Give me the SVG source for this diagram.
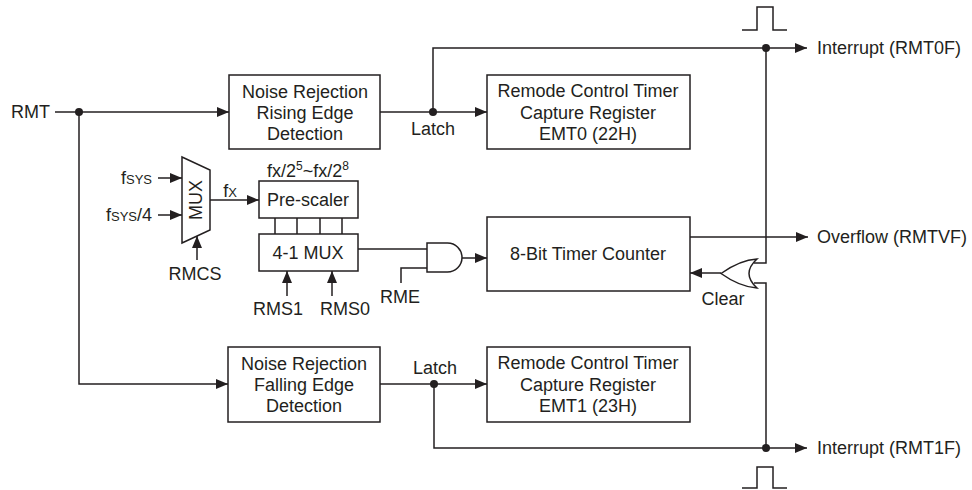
<svg xmlns="http://www.w3.org/2000/svg" width="972" height="490" viewBox="0 0 972 490">
<style>
text{font-family:"Liberation Sans",Arial,sans-serif;font-size:18px;fill:#231f20}
.m{text-anchor:middle}
.e{text-anchor:end}
.box{fill:#fff;stroke:#231f20;stroke-width:1.5}
.w{fill:none;stroke:#231f20;stroke-width:1.5}
.sc{font-size:13px}
.dot{fill:#231f20}
</style>
<defs>
<marker id="a" markerUnits="userSpaceOnUse" markerWidth="12" markerHeight="10" viewBox="0 0 12 10" refX="12" refY="5" orient="auto">
<path d="M0,0 L12,5 L0,10 Z" fill="#231f20"/>
</marker>
</defs>
<rect width="972" height="490" fill="#fff"/>

<g id="connectors">
<path class="w" d="M55,112 H229" marker-end="url(#a)"/>
<path class="w" d="M79,112 V384 H228" marker-end="url(#a)"/>
<path class="w" d="M380,112 H487" marker-end="url(#a)"/>
<path class="w" d="M433,112 V48 H807" marker-end="url(#a)"/>
<path class="w" d="M766,48 V263 H754"/>
<path class="w" d="M380,384 H487" marker-end="url(#a)"/>
<path class="w" d="M434,384 V448 H807" marker-end="url(#a)"/>
<path class="w" d="M766,448 V283 H754"/>
<path class="w" d="M158,178 H182" marker-end="url(#a)"/>
<path class="w" d="M158,215 H182" marker-end="url(#a)"/>
<path class="w" d="M197,260 V236" marker-end="url(#a)"/>
<path class="w" d="M210,200 H259" marker-end="url(#a)"/>
<path class="w" d="M275,218 V234 M297,218 V234 M320,218 V234 M342,218 V234"/>
<path class="w" d="M287,296 V271" marker-end="url(#a)"/>
<path class="w" d="M332,296 V271" marker-end="url(#a)"/>
<path class="w" d="M358,249 H427"/>
<path class="w" d="M401,283 V268 H427"/>
<path class="w" d="M462,258 H487" marker-end="url(#a)"/>
<path class="w" d="M690,237 H808" marker-end="url(#a)"/>
<path class="w" d="M721,273 H690" marker-end="url(#a)"/>
<path class="w" d="M742,30 H757 V7 H773 V30 H787"/>
<path class="w" d="M742,488 H757 V467 H773 V488 H787"/>
<circle class="dot" cx="79" cy="112" r="4"/>
<circle class="dot" cx="433" cy="112" r="4"/>
<circle class="dot" cx="766" cy="48" r="4"/>
<circle class="dot" cx="434" cy="384" r="4"/>
<circle class="dot" cx="766" cy="448" r="4"/>
</g>

<g id="rmt"><text class="e" x="50" y="118">RMT</text></g>

<g id="nr-rise">
<rect class="box" x="229" y="75" width="151" height="74"/>
<text class="m" x="305" y="98">Noise Rejection</text>
<text class="m" x="305" y="119">Rising Edge</text>
<text class="m" x="305" y="140">Detection</text>
</g>
<g id="latch0"><text class="m" x="433" y="135">Latch</text></g>

<g id="cap0">
<rect class="box" x="487" y="75" width="203" height="74"/>
<text class="m" x="588" y="97">Remode Control Timer</text>
<text class="m" x="588" y="119">Capture Register</text>
<text class="m" x="588" y="140">EMT0 (22H)</text>
</g>
<g id="int0"><text x="817" y="54">Interrupt (RMT0F)</text></g>

<g id="mux">
<path class="box" d="M182,157 L210,170 L210,230 L182,243 Z"/>
<text class="m" transform="translate(202,200) rotate(-90)">MUX</text>
</g>
<g id="fsys"><text class="e" x="152" y="184">f<tspan class="sc">SYS</tspan></text></g>
<g id="fsys4"><text class="e" x="152" y="221">f<tspan class="sc">SYS</tspan>/4</text></g>
<g id="rmcs"><text class="m" x="195" y="280">RMCS</text></g>
<g id="fx"><text class="m" x="230" y="197">f<tspan class="sc">X</tspan></text></g>

<g id="prescaler">
<text class="m" x="308" y="177">fx/2<tspan font-size="12" dy="-7">5</tspan><tspan dy="7">~fx/2</tspan><tspan font-size="12" dy="-7">8</tspan></text>
<rect class="box" x="259" y="181" width="99" height="37"/>
<text class="m" x="308" y="206">Pre-scaler</text>
</g>

<g id="mux41">
<rect class="box" x="259" y="234" width="99" height="37"/>
<text class="m" x="308" y="259">4-1 MUX</text>
</g>
<g id="rms1"><text class="m" x="278" y="315">RMS1</text></g>
<g id="rms0"><text class="m" x="345" y="315">RMS0</text></g>
<g id="rme"><text class="m" x="400" y="303">RME</text></g>

<g id="and">
<path class="box" d="M427,243 H447.5 A14.5,14.5 0 0 1 447.5,272 H427 Z"/>
</g>

<g id="counter">
<rect class="box" x="487" y="217" width="203" height="74"/>
<text class="m" x="588" y="260">8-Bit Timer Counter</text>
</g>
<g id="ovf"><text x="817" y="243">Overflow (RMTVF)</text></g>

<g id="or">
<path class="box" d="M757,259 Q741,273.5 757,288 Q740,287 721,273.5 Q740,260 757,259 Z"/>
</g>
<g id="clear"><text class="m" x="723" y="305">Clear</text></g>

<g id="nr-fall">
<rect class="box" x="228" y="347" width="152" height="75"/>
<text class="m" x="304" y="370">Noise Rejection</text>
<text class="m" x="304" y="391">Falling Edge</text>
<text class="m" x="304" y="412">Detection</text>
</g>
<g id="latch1"><text class="m" x="435" y="374">Latch</text></g>

<g id="cap1">
<rect class="box" x="487" y="347" width="203" height="75"/>
<text class="m" x="588" y="369">Remode Control Timer</text>
<text class="m" x="588" y="391">Capture Register</text>
<text class="m" x="588" y="412">EMT1 (23H)</text>
</g>
<g id="int1"><text x="817" y="454">Interrupt (RMT1F)</text></g>
</svg>
